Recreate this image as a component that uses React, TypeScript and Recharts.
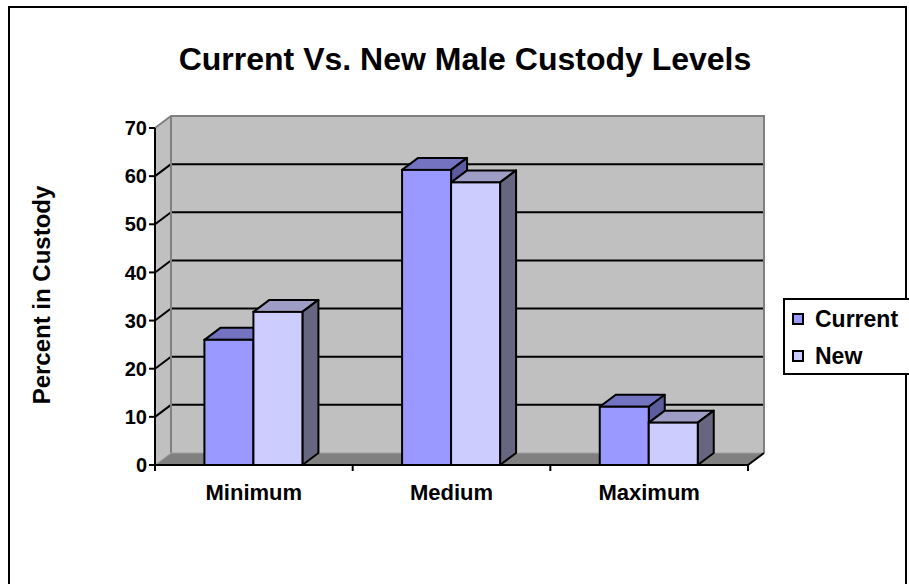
import React from 'react';
import * as R from 'recharts';

const { BarChart, Bar, XAxis, YAxis, Legend } = R as any;

// ---- data ----
const categories = ['Minimum', 'Medium', 'Maximum'];
const currentValues = [26, 61.3, 12.1];
const newValues = [31.8, 58.7, 8.8];
const yTicks = [0, 10, 20, 30, 40, 50, 60, 70];
const seriesNames = ['Current', 'New'];
const chartTitle = 'Current Vs. New Male Custody Levels';
const yAxisTitle = 'Percent in Custody';

const data = categories.map((c, i) => ({ name: c, Current: currentValues[i], New: newValues[i] }));

// ---- styling ----
const FONT = '"Liberation Sans", Arial, Helvetica, sans-serif';
const W = 909;
const H = 584;
const DX = 16;
const DY = 12;
const YMAX = 70;
const colors = {
  Current: { front: '#9999FF', top: '#7373C2', side: '#5C5C9E' },
  New: { front: '#CCCCFF', top: '#9D9DC6', side: '#666680' },
};

const usePlotAreaHook = (R as any).usePlotArea;
const useOffsetHook = (R as any).useOffset;
const FALLBACK = { x: 155, y: 128, width: 593, height: 337 };

function usePlotBox() {
  let p: any = null;
  if (usePlotAreaHook) {
    p = usePlotAreaHook();
  } else if (useOffsetHook) {
    const o = useOffsetHook();
    if (o) p = { x: o.left, y: o.top, width: W - o.left - o.right, height: H - o.top - o.bottom };
  }
  return p && p.width ? p : FALLBACK;
}

function Decor() {
  const { x: L, y: T, width: PW, height: PH } = usePlotBox();
  const Rr = L + PW;
  const B = T + PH;
  const yOf = (v: number) => B - (v / YMAX) * PH;
  const grid = yTicks.filter((v) => v > 0 && v < YMAX);
  const n = categories.length;
  return (
    <g>
      <polygon
        points={`${L},${T} ${L + DX},${T - DY} ${L + DX},${B - DY} ${L},${B}`}
        fill="#C0C0C0"
        stroke="none"
      />
      <rect x={L + DX} y={T - DY} width={PW} height={PH} fill="#C0C0C0" stroke="none" />
      <polygon
        points={`${L},${B} ${L + DX},${B - DY} ${Rr + DX},${B - DY} ${Rr},${B}`}
        fill="#808080"
        stroke="none"
      />
      {grid.map((v) => (
        <g key={v}>
          <line x1={L + DX} y1={yOf(v) - DY} x2={Rr + DX} y2={yOf(v) - DY} stroke="#000" strokeWidth={2} />
          <line x1={L} y1={yOf(v)} x2={L + DX} y2={yOf(v) - DY} stroke="#000" strokeWidth={2} />
        </g>
      ))}
      <polyline
        points={`${L},${T} ${L + DX},${T - DY} ${Rr + DX},${T - DY} ${Rr + DX},${B - DY}`}
        fill="none"
        stroke="#808080"
        strokeWidth={2}
      />
      <line x1={L + DX} y1={T - DY} x2={L + DX} y2={B - DY} stroke="#808080" strokeWidth={2} />
      <line x1={L + DX} y1={B - DY} x2={Rr + DX} y2={B - DY} stroke="#A0A0A0" strokeWidth={1} />
      <line x1={L} y1={B} x2={L + DX} y2={B - DY} stroke="#A0A0A0" strokeWidth={1} />
      <line x1={Rr} y1={B} x2={Rr + DX} y2={B - DY} stroke="#000" strokeWidth={2} />
      {Array.from({ length: n + 1 }, (_, i) => (
        <line
          key={i}
          x1={L + (i * PW) / n}
          y1={B}
          x2={L + (i * PW) / n}
          y2={B + 6}
          stroke="#000"
          strokeWidth={2}
        />
      ))}
      <text
        x={465}
        y={70}
        textAnchor="middle"
        fontFamily={FONT}
        fontWeight="bold"
        fontSize={32}
        fill="#000"
      >
        {chartTitle}
      </text>
      <text
        transform="translate(50,295) rotate(-90)"
        textAnchor="middle"
        fontFamily={FONT}
        fontWeight="bold"
        fontSize={24}
        fill="#000"
      >
        {yAxisTitle}
      </text>
    </g>
  );
}

const make3D = (c: { front: string; top: string; side: string }) => (props: any) => {
  const { x, y, width, height } = props;
  if (x == null || width == null || height == null) return null;
  const r = x + width;
  const b = y + height;
  return (
    <g>
      <polygon
        points={`${x},${y} ${x + DX},${y - DY} ${r + DX},${y - DY} ${r},${y}`}
        fill={c.top}
        stroke="#000"
        strokeWidth={2}
        strokeLinejoin="round"
      />
      <polygon
        points={`${r},${y} ${r + DX},${y - DY} ${r + DX},${b - DY} ${r},${b}`}
        fill={c.side}
        stroke="#000"
        strokeWidth={2}
        strokeLinejoin="round"
      />
      <rect x={x} y={y} width={width} height={height} fill={c.front} stroke="#000" strokeWidth={2} />
    </g>
  );
};

const CatTick = (props: any) => {
  const { x, y, payload } = props;
  return (
    <text
      x={x}
      y={y + 27}
      textAnchor="middle"
      fontFamily={FONT}
      fontWeight="bold"
      fontSize={22}
      fill="#000"
    >
      {payload.value}
    </text>
  );
};

const LegendBox = () => (
  <div
    style={{
      border: '2px solid #000',
      background: '#fff',
      width: 160,
      height: 73,
      position: 'relative',
      fontFamily: FONT,
      fontWeight: 'bold',
      fontSize: 23,
      color: '#000',
    }}
  >
    {seriesNames.map((s, i) => (
      <div
        key={s}
        style={{
          position: 'absolute',
          left: 7,
          top: 7 + i * 37,
          height: 24,
          display: 'flex',
          alignItems: 'center',
          whiteSpace: 'nowrap',
        }}
      >
        <span
          style={{
            display: 'inline-block',
            width: 8,
            height: 8,
            border: '2px solid #000',
            background: (colors as any)[s].front,
          }}
        />
        <span style={{ marginLeft: 11, lineHeight: '24px' }}>{s}</span>
      </div>
    ))}
  </div>
);

export default function App() {
  return (
    <div
      style={{
        position: 'absolute',
        left: 0,
        top: 0,
        width: W,
        height: H,
        overflow: 'hidden',
        background: '#fff',
      }}
    >
      <svg width={W} height={H} style={{ position: 'absolute', left: 0, top: 0 }}>
        <rect x={9} y={7} width={897} height={620} fill="#fff" stroke="#000" strokeWidth={2} />
      </svg>
      <div style={{ position: 'absolute', left: 0, top: 0 }}>
        <BarChart
          width={W}
          height={H}
          data={data}
          margin={{ top: 128, right: 161, bottom: 89, left: 95 }}
          barCategoryGap="25%"
          barGap={0}
        >
          <Decor />
          <XAxis
            dataKey="name"
            height={30}
            axisLine={{ stroke: '#000', strokeWidth: 2 }}
            tickLine={false}
            tick={<CatTick />}
            interval={0}
          />
          <YAxis
            width={60}
            domain={[0, YMAX]}
            ticks={yTicks}
            interval={0}
            axisLine={{ stroke: '#000', strokeWidth: 2 }}
            tickLine={{ stroke: '#000', strokeWidth: 2 }}
            tickSize={6}
            tickMargin={2}
            tick={{ fill: '#000', fontFamily: FONT, fontWeight: 'bold', fontSize: 20 }}
          />
          <Legend
            layout="vertical"
            align="center"
            verticalAlign="middle"
            content={<LegendBox />}
            wrapperStyle={{ left: 783, top: 298, width: 'auto' }}
          />
          <Bar dataKey="Current" shape={make3D(colors.Current)} isAnimationActive={false} />
          <Bar dataKey="New" shape={make3D(colors.New)} isAnimationActive={false} />
        </BarChart>
      </div>
    </div>
  );
}
